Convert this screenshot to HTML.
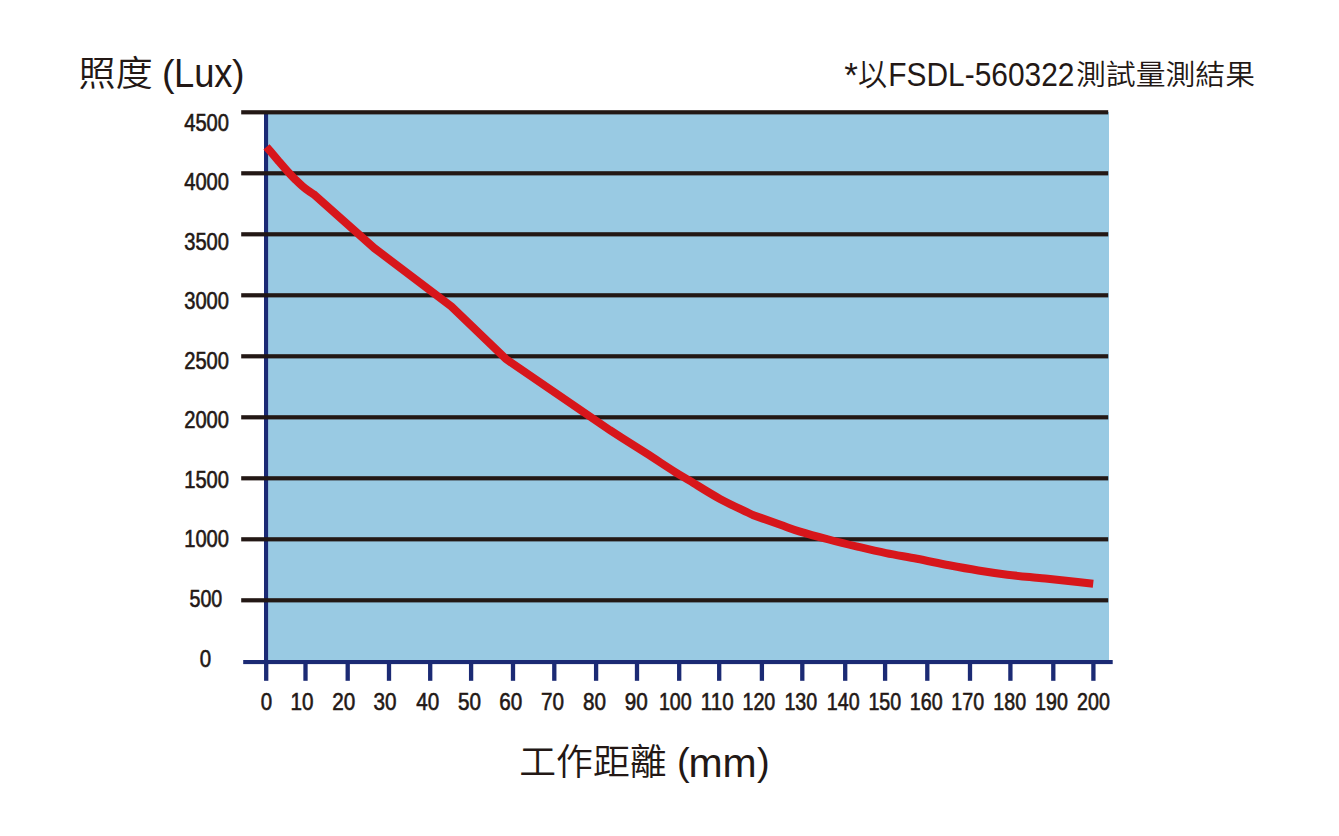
<!DOCTYPE html>
<html lang="zh-Hant"><head><meta charset="utf-8"><title>照度 (Lux)</title>
<style>
html,body{margin:0;padding:0;background:#fff;}
body{width:1339px;height:836px;overflow:hidden;}
svg{display:block;}
text{fill:#231815;}
.n{font-family:"Liberation Sans","Noto Sans CJK TC",sans-serif;font-weight:400;font-size:23px;stroke:#231815;stroke-width:0.6px;}
.l{font-family:"Liberation Sans","Noto Sans CJK TC",sans-serif;font-weight:400;}
.c{font-family:"Liberation Sans","Noto Sans CJK TC",sans-serif;font-weight:350;}
</style></head>
<body>
<svg width="1339" height="836" viewBox="0 0 1339 836">
<rect x="268" y="112" width="841" height="548" fill="#99cae3"/>
<rect x="264" y="112" width="4.1" height="552" fill="#1b2a74"/>
<rect x="241.2" y="110.2" width="867" height="4.2" fill="#231815"/>
<rect x="241.2" y="171.2" width="867" height="4.2" fill="#231815"/>
<rect x="241.2" y="232.2" width="867" height="4.2" fill="#231815"/>
<rect x="241.2" y="293.2" width="867" height="4.2" fill="#231815"/>
<rect x="241.2" y="354.2" width="867" height="4.2" fill="#231815"/>
<rect x="241.2" y="415.2" width="867" height="4.2" fill="#231815"/>
<rect x="241.2" y="476.2" width="867" height="4.2" fill="#231815"/>
<rect x="241.2" y="537.2" width="867" height="4.2" fill="#231815"/>
<rect x="241.2" y="598.2" width="867" height="4.2" fill="#231815"/>
<rect x="243.2" y="660" width="869.5" height="4.1" fill="#1b2a74"/>
<rect x="264.05" y="663" width="4.3" height="17.8" fill="#1b2a74"/>
<rect x="303.35" y="663" width="4.3" height="17.8" fill="#1b2a74"/>
<rect x="345.55" y="663" width="4.3" height="17.8" fill="#1b2a74"/>
<rect x="386.85" y="663" width="4.3" height="17.8" fill="#1b2a74"/>
<rect x="428.05" y="663" width="4.3" height="17.8" fill="#1b2a74"/>
<rect x="468.95" y="663" width="4.3" height="17.8" fill="#1b2a74"/>
<rect x="510.85" y="663" width="4.3" height="17.8" fill="#1b2a74"/>
<rect x="552.15" y="663" width="4.3" height="17.8" fill="#1b2a74"/>
<rect x="593.95" y="663" width="4.3" height="17.8" fill="#1b2a74"/>
<rect x="634.85" y="663" width="4.3" height="17.8" fill="#1b2a74"/>
<rect x="677.05" y="663" width="4.3" height="17.8" fill="#1b2a74"/>
<rect x="717.05" y="663" width="4.3" height="17.8" fill="#1b2a74"/>
<rect x="759.75" y="663" width="4.3" height="17.8" fill="#1b2a74"/>
<rect x="800.15" y="663" width="4.3" height="17.8" fill="#1b2a74"/>
<rect x="843.05" y="663" width="4.3" height="17.8" fill="#1b2a74"/>
<rect x="882.95" y="663" width="4.3" height="17.8" fill="#1b2a74"/>
<rect x="925.15" y="663" width="4.3" height="17.8" fill="#1b2a74"/>
<rect x="967.85" y="663" width="4.3" height="17.8" fill="#1b2a74"/>
<rect x="1008.25" y="663" width="4.3" height="17.8" fill="#1b2a74"/>
<rect x="1051.15" y="663" width="4.3" height="17.8" fill="#1b2a74"/>
<rect x="1091.25" y="663" width="4.3" height="17.8" fill="#1b2a74"/>
<path d="M266.50,146.80 C270.33,151.30 274.20,155.88 278.00,160.30 C281.80,164.72 286.30,169.98 289.30,173.30 C292.30,176.62 293.85,178.08 296.00,180.20 C298.15,182.32 300.20,184.27 302.20,186.00 C304.20,187.73 306.08,189.22 308.00,190.60 C309.92,191.98 311.80,193.07 313.70,194.30 L374.50,248.30 L451.50,306.50 L505.90,359.00 L610.00,430.20 C622.03,437.87 635.30,446.27 646.10,453.20 C656.90,460.13 667.48,467.18 674.80,471.80 C682.12,476.42 682.47,476.38 690.00,480.90 C697.53,485.42 709.53,493.22 720.00,498.90 C730.47,504.58 741.87,509.63 752.80,515.00 C762.00,518.27 772.53,522.03 780.40,524.80 C788.27,527.57 791.95,529.15 800.00,531.60 C808.05,534.05 819.13,537.00 828.70,539.50 C838.27,542.00 847.83,544.33 857.40,546.60 C866.97,548.87 876.17,551.07 886.10,553.10 C896.03,555.13 906.50,556.77 917.00,558.80 C927.50,560.83 938.88,563.35 949.10,565.30 C959.32,567.25 968.58,568.93 978.30,570.50 C988.02,572.07 997.70,573.50 1007.40,574.70 C1017.10,575.90 1029.40,576.98 1036.50,577.70 C1043.60,578.42 1040.55,578.00 1050.00,579.00 C1059.45,580.00 1078.80,582.13 1093.20,583.70" fill="none" stroke="#d7161b" stroke-width="8" stroke-linejoin="miter" stroke-miterlimit="10" stroke-linecap="butt"/>
<text class="n" x="206.60" y="130.50" text-anchor="middle" textLength="44.8" lengthAdjust="spacingAndGlyphs">4500</text>
<text class="n" x="206.60" y="190.07" text-anchor="middle" textLength="44.8" lengthAdjust="spacingAndGlyphs">4000</text>
<text class="n" x="206.60" y="249.64" text-anchor="middle" textLength="44.8" lengthAdjust="spacingAndGlyphs">3500</text>
<text class="n" x="206.60" y="309.21" text-anchor="middle" textLength="44.8" lengthAdjust="spacingAndGlyphs">3000</text>
<text class="n" x="206.60" y="368.78" text-anchor="middle" textLength="44.8" lengthAdjust="spacingAndGlyphs">2500</text>
<text class="n" x="206.60" y="428.35" text-anchor="middle" textLength="44.8" lengthAdjust="spacingAndGlyphs">2000</text>
<text class="n" x="206.60" y="487.92" text-anchor="middle" textLength="44.8" lengthAdjust="spacingAndGlyphs">1500</text>
<text class="n" x="206.60" y="547.49" text-anchor="middle" textLength="44.8" lengthAdjust="spacingAndGlyphs">1000</text>
<text class="n" x="205.90" y="607.06" text-anchor="middle" textLength="32.8" lengthAdjust="spacingAndGlyphs">500</text>
<text class="n" x="205.40" y="666.63" text-anchor="middle" textLength="11.4" lengthAdjust="spacingAndGlyphs">0</text>
<text class="n" x="266.40" y="709.6" text-anchor="middle" textLength="11.4" lengthAdjust="spacingAndGlyphs">0</text>
<text class="n" x="302.00" y="709.6" text-anchor="middle" textLength="23.0" lengthAdjust="spacingAndGlyphs">10</text>
<text class="n" x="343.70" y="709.6" text-anchor="middle" textLength="23.0" lengthAdjust="spacingAndGlyphs">20</text>
<text class="n" x="385.10" y="709.6" text-anchor="middle" textLength="23.0" lengthAdjust="spacingAndGlyphs">30</text>
<text class="n" x="427.80" y="709.6" text-anchor="middle" textLength="23.0" lengthAdjust="spacingAndGlyphs">40</text>
<text class="n" x="469.40" y="709.6" text-anchor="middle" textLength="23.0" lengthAdjust="spacingAndGlyphs">50</text>
<text class="n" x="510.70" y="709.6" text-anchor="middle" textLength="23.0" lengthAdjust="spacingAndGlyphs">60</text>
<text class="n" x="552.60" y="709.6" text-anchor="middle" textLength="23.0" lengthAdjust="spacingAndGlyphs">70</text>
<text class="n" x="594.40" y="709.6" text-anchor="middle" textLength="23.0" lengthAdjust="spacingAndGlyphs">80</text>
<text class="n" x="636.20" y="709.6" text-anchor="middle" textLength="23.0" lengthAdjust="spacingAndGlyphs">90</text>
<text class="n" x="675.30" y="709.6" text-anchor="middle" textLength="32.8" lengthAdjust="spacingAndGlyphs">100</text>
<text class="n" x="717.20" y="709.6" text-anchor="middle" textLength="32.8" lengthAdjust="spacingAndGlyphs">110</text>
<text class="n" x="758.90" y="709.6" text-anchor="middle" textLength="32.8" lengthAdjust="spacingAndGlyphs">120</text>
<text class="n" x="800.80" y="709.6" text-anchor="middle" textLength="32.8" lengthAdjust="spacingAndGlyphs">130</text>
<text class="n" x="843.20" y="709.6" text-anchor="middle" textLength="32.8" lengthAdjust="spacingAndGlyphs">140</text>
<text class="n" x="884.80" y="709.6" text-anchor="middle" textLength="32.8" lengthAdjust="spacingAndGlyphs">150</text>
<text class="n" x="926.20" y="709.6" text-anchor="middle" textLength="32.8" lengthAdjust="spacingAndGlyphs">160</text>
<text class="n" x="967.70" y="709.6" text-anchor="middle" textLength="32.8" lengthAdjust="spacingAndGlyphs">170</text>
<text class="n" x="1009.70" y="709.6" text-anchor="middle" textLength="32.8" lengthAdjust="spacingAndGlyphs">180</text>
<text class="n" x="1051.50" y="709.6" text-anchor="middle" textLength="32.8" lengthAdjust="spacingAndGlyphs">190</text>
<text class="n" x="1093.50" y="709.6" text-anchor="middle" textLength="32.8" lengthAdjust="spacingAndGlyphs">200</text>
<text class="c" x="78.62" y="86.36" style="font-size:35.21px" textLength="74.09" lengthAdjust="spacingAndGlyphs">照度</text>
<text class="l" x="161.92" y="85.6" style="font-size:37.63px">(</text>
<text class="l" x="173.9" y="86.65" style="font-size:40.69px" textLength="58.67" lengthAdjust="spacingAndGlyphs">Lux</text>
<text class="l" x="231.93" y="85.6" style="font-size:37.63px">)</text>
<text class="l" x="844.18" y="86.9" style="font-size:35.17px">*</text>
<text class="c" x="857.92" y="86.17" style="font-size:31.5px" textLength="29.06" lengthAdjust="spacingAndGlyphs">以</text>
<text class="l" x="888.23" y="86.4" style="font-size:34.07px" textLength="186.27" lengthAdjust="spacingAndGlyphs">FSDL-560322</text>
<text class="c" x="1075.95" y="84.92" style="font-size:28.27px" textLength="179.16" lengthAdjust="spacingAndGlyphs">測試量測結果</text>
<text class="c" x="519.28" y="775.04" style="font-size:35.86px" textLength="147.33" lengthAdjust="spacingAndGlyphs">工作距離</text>
<text class="l" x="677.04" y="775.25" style="font-size:38.05px">(</text>
<text class="l" x="688.44" y="776.95" style="font-size:39.84px" textLength="68.28" lengthAdjust="spacingAndGlyphs">mm</text>
<text class="l" x="757.08" y="775.25" style="font-size:38.05px">)</text>
</svg>
</body></html>
